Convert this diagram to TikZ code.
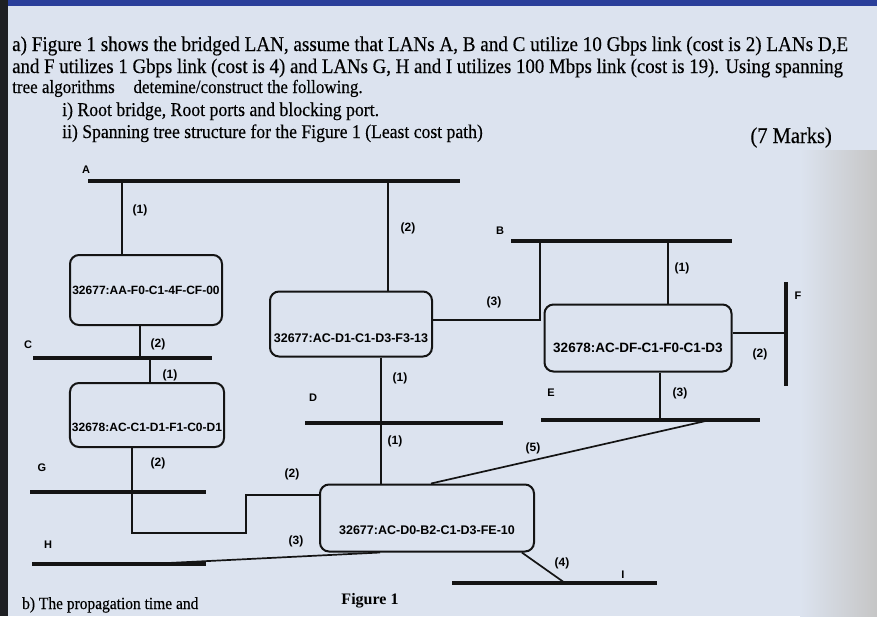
\documentclass[tikz,border=0pt]{standalone}
\usepackage{fontspec}
\setmainfont{Liberation Serif}
\newfontfamily\qfont[FakeStretch=0.91, FakeBold=0.3]{Liberation Serif}
\newfontfamily\lblfont{Liberation Sans}
\usetikzlibrary{positioning}
\definecolor{paper}{HTML}{DCE3EF}
\definecolor{screenblue}{HTML}{2A3F9A}
\definecolor{bezel}{HTML}{1E2024}
\definecolor{inkline}{HTML}{141414}

\begin{document}
\begin{tikzpicture}[x=1pt, y=-1pt,
  lan/.style={line width=3.6pt, inkline},
  link/.style={line width=1.7pt, inkline},
  bridge/.style={draw=inkline, line width=2pt, rounded corners=9pt,
    inner sep=2pt, font=\lblfont\bfseries\fontsize{#1}{#1}\selectfont},
  bridge/.default=12,
  port/.style={font=\lblfont\bfseries\fontsize{12}{12}\selectfont},
  lanname/.style={font=\lblfont\bfseries\fontsize{11}{11}\selectfont},
  qline/.style={anchor=base west, inner sep=0pt,
    font=\qfont\fontsize{#1}{#1}\selectfont},
  qline/.default=21
]
\useasboundingbox (0,0) rectangle (877,616);

% sheet and screen edges
\fill[paper] (0,0) rectangle (877,616);
\shade[left color=paper, right color=gray!45] (800,150) rectangle (877,616);
\fill[screenblue] (0,0) rectangle (877,6);
\fill[bezel] (0,0) rectangle (8,616);

% question text
\node[qline] (q1) at (12,51)
  {a) Figure 1 shows the bridged LAN, assume that LANs A, B and C utilize 10 Gbps link (cost is 2) LANs D,E};
\node[qline=20.7] (q2) at (12,73)
  {and F utilizes 1 Gbps link (cost is 4) and LANs G, H and I utilizes 100 Mbps link (cost is 19). Using spanning};
\node[qline=18.7] (q3) at (12,93)
  {tree algorithms\quad detemine/construct the following.};
\node[qline=19.5] (q4) at (62,116) {i) Root bridge, Root ports and blocking port.};
\node[qline=19.4] (q5) at (62,138)
  {ii) Spanning tree structure for the Figure 1 (Least cost path)};
\node[qline=22.5, anchor=base east] (marks) at (832,143) {(7 Marks)};

% LAN segments
\coordinate (Aw) at (88,181);  \coordinate (Ae) at (460,181);
\coordinate (Bw) at (511,241); \coordinate (Be) at (732,241);
\coordinate (Cw) at (33,358);  \coordinate (Ce) at (212,358);
\coordinate (Dw) at (305,423); \coordinate (De) at (503,423);
\coordinate (Ew) at (541,420); \coordinate (Ee) at (760,420);
\coordinate (Fn) at (786,282); \coordinate (Fs) at (786,386);
\coordinate (Gw) at (30,492);  \coordinate (Ge) at (206,492);
\coordinate (Hw) at (32,564);  \coordinate (He) at (206,564);
\coordinate (Iw) at (452,583); \coordinate (Ie) at (657,583);
\foreach \lan in {A,B,C,D,E,G,H,I}
  \draw[lan] (\lan w) -- (\lan e);
\draw[lan] (Fn) -- (Fs);

\node[lanname] (labA) at (86,170) {A};
\node[lanname] (labB) at (500,231) {B};
\node[lanname] (labC) at (28,345) {C};
\node[lanname] (labD) at (313,398) {D};
\node[lanname] (labE) at (551,393) {E};
\node[lanname] (labF) at (798,296) {F};
\node[lanname] (labG) at (42,468) {G};
\node[lanname] (labH) at (48,545) {H};
\node[lanname] (labI) at (623,575) {I};

% bridges
\node[bridge, minimum width=152pt, minimum height=70pt]
  (brAA) at (146,290) {32677:AA-F0-C1-4F-CF-00};
\node[bridge, minimum width=150pt, minimum height=64pt, text height=34pt]
  (brC1) at (147,415) {32678:AC-C1-D1-F1-C0-D1};
\node[bridge=12.5, minimum width=162pt, minimum height=65pt, text height=38pt]
  (brD1) at (351,324) {32677:AC-D1-C1-D3-F3-13};
\node[bridge=12.5, minimum width=214pt, minimum height=67pt, text height=34pt]
  (brD0) at (427,518) {32677:AC-D0-B2-C1-D3-FE-10};
\node[bridge=13.5, minimum width=187pt, minimum height=67pt, text height=30pt]
  (brDF) at (638,338) {32678:AC-DF-C1-F0-C1-D3};

% ports
\coordinate (pA1) at (122,181);
\coordinate (pC1) at (140,358);
\coordinate (pC2) at (150,358);
\coordinate (pA2) at (388,181);
\coordinate (pD1) at (381,423);
\coordinate (pB1) at (540,241);
\coordinate (pB2) at (668,241);
\coordinate (pF1) at (786,333);
\coordinate (pE1) at (660,420);
\coordinate (pE2) at (710,420);
\coordinate (pH1) at (148,564);
\coordinate (pI1) at (565,583);
\coordinate (g1) at (132,533);
\coordinate (g2) at (246,533);
\coordinate (g3) at (246,495);

% links
\draw[link] (pA1) -- (pA1 |- brAA.north);
\draw[link] (brAA.south -| pC1) -- (pC1);
\draw[link] (pC2) -- (pC2 |- brC1.north);
\draw[link] (brC1.south -| g1) -- (g1) -- (g2) -- (g3) -- (g3 -| brD0.west);
\draw[link] (pA2) -- (pA2 |- brD1.north);
\draw[link] (brD1.south -| pD1) -- (pD1) -- (pD1 |- brD0.north);
\draw[link] (brD1.east |- 0,320) -| (pB1);
\draw[link] (pB2) -- (pB2 |- brDF.north);
\draw[link] (brDF.east |- pF1) -- (pF1);
\draw[link] (brDF.south -| pE1) -- (pE1);
\draw[link] (pE2) -- (brD0.north -| 431,0);
\draw[link] (pH1) -- (brD0.south -| 380,0);
\draw[link] (brD0.-20) -- (pI1);

% port numbers
\node[port] at (140,210) {(1)};
\node[port] at (158,344) {(2)};
\node[port] at (170,375) {(1)};
\node[port] at (158,463) {(2)};
\node[port] at (408,228) {(2)};
\node[port] at (494,302) {(3)};
\node[port] at (400,378) {(1)};
\node[port] at (395,441) {(1)};
\node[port] at (292,474) {(2)};
\node[port] at (296,541) {(3)};
\node[port] at (682,268) {(1)};
\node[port] at (760,354) {(2)};
\node[port] at (680,393) {(3)};
\node[port] at (533,448) {(5)};
\node[port] at (562,563) {(4)};

% caption and next question
\node[font=\bfseries\fontsize{16}{16}\selectfont] (cap) at (370,601) {Figure 1};
\node[qline=17] (qb) at (22,609) {b) The propagation time and};
\end{tikzpicture}
\end{document}
